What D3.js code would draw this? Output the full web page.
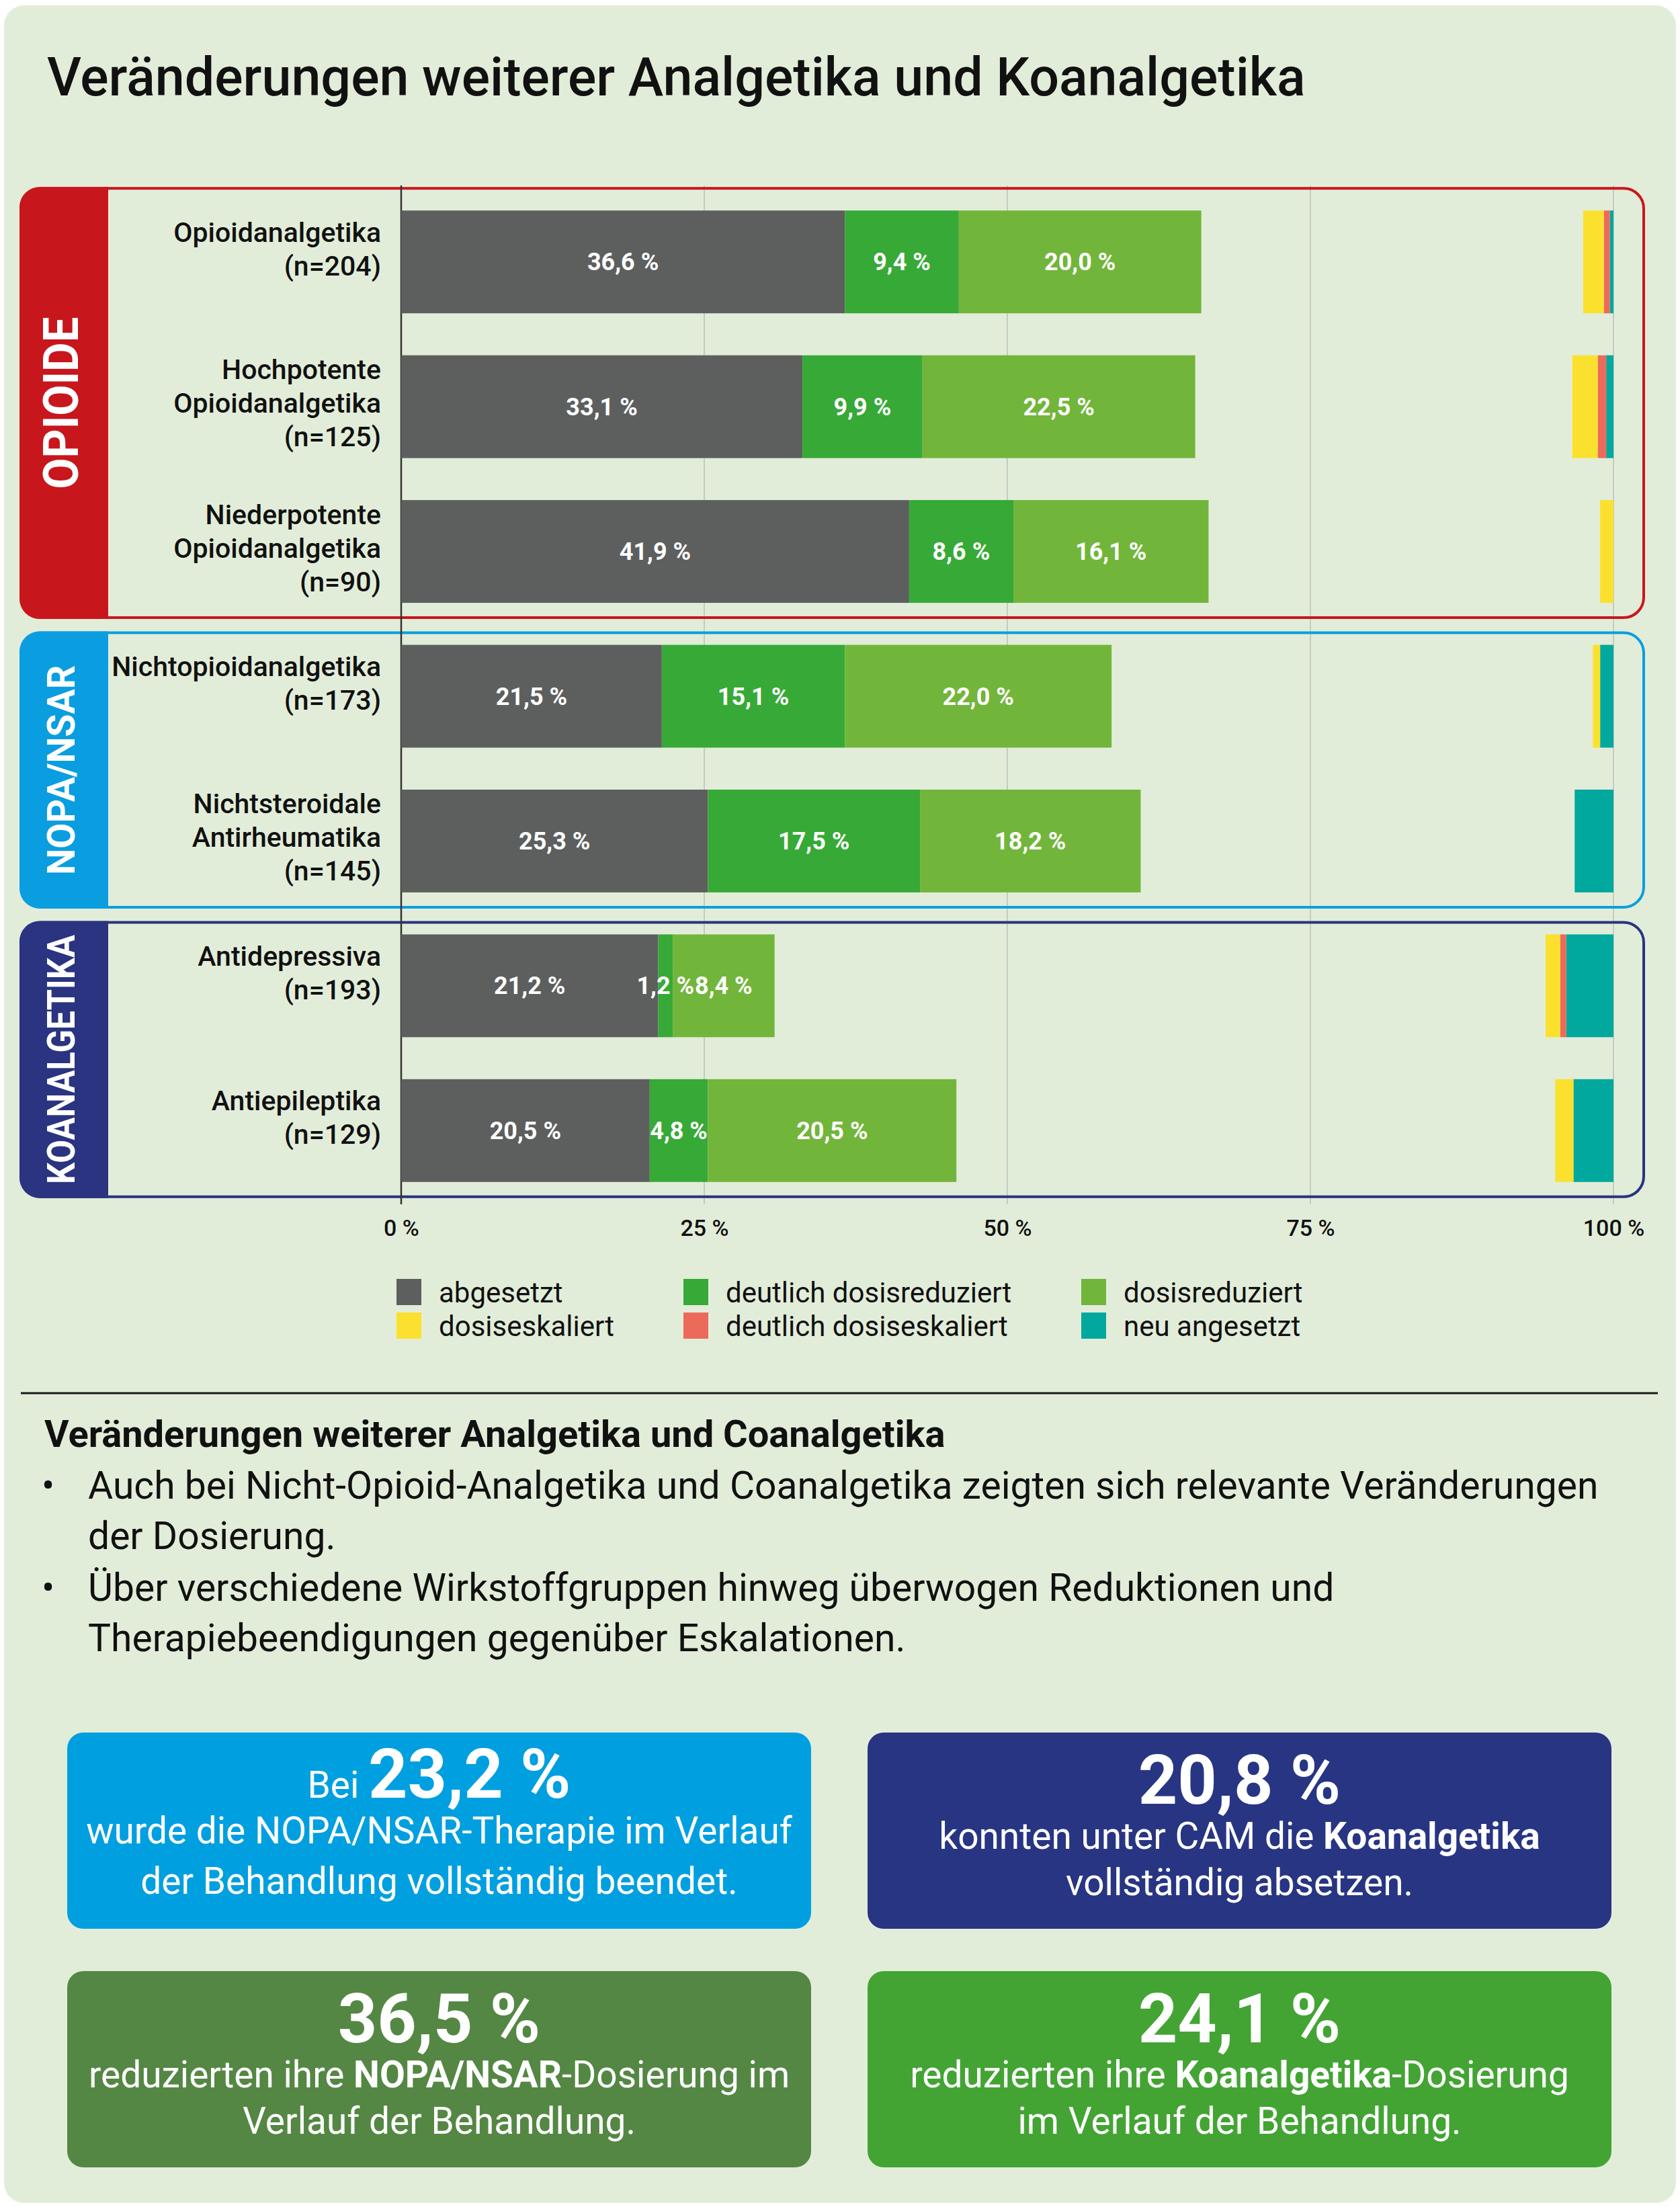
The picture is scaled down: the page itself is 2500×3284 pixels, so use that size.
<!DOCTYPE html>
<html>
<head>
<meta charset="utf-8">
<script src="https://cdn.jsdelivr.net/npm/d3@7"></script>
<style>
  body { margin: 0; background: #fff; }
  svg { display: block; font-family: Roboto, "Noto Sans", sans-serif; }
</style>
</head>
<body>
<div id="chart"></div>
<script>
// --- data ---
const categories = ["opioid", "hochpotent", "niederpotent", "nopa", "nsar", "antidep", "antiepi"];
const categoryLines = [
    ["Opioidanalgetika", "(n=204)"],
    ["Hochpotente", "Opioidanalgetika", "(n=125)"],
    ["Niederpotente", "Opioidanalgetika", "(n=90)"],
    ["Nichtopioidanalgetika", "(n=173)"],
    ["Nichtsteroidale", "Antirheumatika", "(n=145)"],
    ["Antidepressiva", "(n=193)"],
    ["Antiepileptika", "(n=129)"]
];
const groupNames = ["OPIOIDE", "NOPA/NSAR", "KOANALGETIKA"];
const groupMembers = [["opioid", "niederpotent"], ["nopa", "nsar"], ["antidep", "antiepi"]];

// left stack (from 0 %)
const abgesetzt          = [36.6, 33.1, 41.9, 21.5, 25.3, 21.2, 20.5];
const deutlichReduziert  = [9.4, 9.9, 8.6, 15.1, 17.5, 1.2, 4.8];
const reduziert          = [20.0, 22.5, 16.1, 22.0, 18.2, 8.4, 20.5];
// right stack (from 100 % leftwards)
const neuAngesetzt       = [0.3, 0.6, 0, 1.1, 3.2, 3.9, 3.3];
const deutlichEskaliert  = [0.5, 0.7, 0, 0, 0, 0.5, 0];
const eskaliert          = [1.7, 2.1, 1.1, 0.6, 0, 1.2, 1.5];

const tickValues = [0, 25, 50, 75, 100];
const tickLabels = ["0 %", "25 %", "50 %", "75 %", "100 %"];

const legendLabels = ["abgesetzt", "deutlich dosisreduziert", "dosisreduziert",
                      "dosiseskaliert", "deutlich dosiseskaliert", "neu angesetzt"];

const sectionHeading = "Veränderungen weiterer Analgetika und Coanalgetika";
const bullets = [
    ["Auch bei Nicht-Opioid-Analgetika und Coanalgetika zeigten sich relevante Veränderungen", "der Dosierung."],
    ["Über verschiedene Wirkstoffgruppen hinweg überwogen Reduktionen und", "Therapiebeendigungen gegenüber Eskalationen."]
];

// fact boxes: each line is a list of [text, style]
const factBoxes = [
    [[["Bei ", false], ["23,2 %", "big"]],
     [["wurde die NOPA/NSAR-Therapie im Verlauf", false]],
     [["der Behandlung vollständig beendet.", false]]],
    [[["20,8 %", "big"]],
     [["konnten unter CAM die ", false], ["Koanalgetika", true]],
     [["vollständig absetzen.", false]]],
    [[["36,5 %", "big"]],
     [["reduzierten ihre ", false], ["NOPA/NSAR", true], ["-Dosierung im", false]],
     [["Verlauf der Behandlung.", false]]],
    [[["24,1 %", "big"]],
     [["reduzierten ihre ", false], ["Koanalgetika", true], ["-Dosierung", false]],
     [["im Verlauf der Behandlung.", false]]]
];

// --- styles ---
const segColors = {
    abgesetzt: "#5d5f5e", deutlichReduziert: "#37a936", reduziert: "#72b53b",
    eskaliert: "#fbe12d", deutlichEskaliert: "#ec6a5a", neuAngesetzt: "#00a89d"
};
const legendColors = ["#5d5f5e", "#37a936", "#72b53b", "#fbe12d", "#ec6a5a", "#00a89d"];
const groupColors = ["#c8161d", "#0a9ee0", "#2a3480"];
const boxColors = ["#009fe0", "#283583", "#548743", "#43a434"];

const width = 2500, height = 3284;

const svg = d3.select("#chart").append("svg")
    .attr("width", width)
    .attr("height", height);

// background panel
svg.append("rect")
    .attr("x", 6).attr("y", 8)
    .attr("width", 2488).attr("height", 3270)
    .attr("rx", 30)
    .attr("fill", "#e2edd9");

// title
svg.append("text")
    .attr("x", 70).attr("y", 142)
    .attr("font-size", 79).attr("font-weight", 500)
    .attr("fill", "#111")
    .text("Veränderungen weiterer Analgetika und Koanalgetika");

// --- scales ---
const x = d3.scaleLinear().domain([0, 100]).range([597, 2401]);
const y = d3.scaleBand().domain(categories)
    .range([282, 1790])
    .paddingInner(0.29).paddingOuter(0.145);
const bw = y.bandwidth();

// grid lines
svg.append("g").selectAll("line")
    .data(tickValues.slice(1))
    .enter().append("line")
    .attr("x1", d => x(d)).attr("x2", d => x(d))
    .attr("y1", 276).attr("y2", 1792)
    .attr("stroke", "#c6cac2").attr("stroke-width", 2);

// --- group boxes ---
const boxLeft = 31, boxRight = 2446, bandW = 130, r = 30;
groupNames.forEach((name, i) => {
    const [first, last] = groupMembers[i];
    const top = y(first) - (i === 0 ? 33 : 18);
    const bottom = y(last) + bw + 22;
    const g = svg.append("g");
    g.append("rect")
        .attr("x", boxLeft).attr("y", top)
        .attr("width", boxRight - boxLeft).attr("height", bottom - top)
        .attr("rx", r)
        .attr("fill", "none")
        .attr("stroke", groupColors[i]).attr("stroke-width", 4);
    const x0 = boxLeft - 2, x1 = boxLeft + bandW;
    const t = top - 2, b = bottom + 2;
    g.append("path")
        .attr("d", `M${x0 + r},${t} H${x1} V${b} H${x0 + r} A${r},${r} 0 0 1 ${x0},${b - r} V${t + r} A${r},${r} 0 0 1 ${x0 + r},${t} Z`)
        .attr("fill", groupColors[i]);
    const cy = (top + bottom) / 2;
    const fs = i === 0 ? 73 : 58;
    const len = [256, 312, 371][i];
    g.append("text")
        .attr("transform", `translate(90, ${cy}) rotate(-90)`)
        .attr("text-anchor", "middle")
        .attr("dy", "0.36em")
        .attr("font-size", fs).attr("font-weight", 700)
        .attr("fill", "#fff")
        .attr("textLength", len).attr("lengthAdjust", "spacingAndGlyphs")
        .text(name);
});

// 0 % axis line
svg.append("line")
    .attr("x1", x(0)).attr("x2", x(0))
    .attr("y1", 276).attr("y2", 1792)
    .attr("stroke", "#333").attr("stroke-width", 2.5);

// --- bars ---
const leftKeys = [["abgesetzt", abgesetzt], ["deutlichReduziert", deutlichReduziert], ["reduziert", reduziert]];
const rightKeys = [["neuAngesetzt", neuAngesetzt], ["deutlichEskaliert", deutlichEskaliert], ["eskaliert", eskaliert]];

const segments = [];
categories.forEach((c, i) => {
    let acc = 0;
    leftKeys.forEach(([k, arr]) => {
        segments.push({ cat: c, key: k, x0: acc, x1: acc + arr[i], value: arr[i], label: true });
        acc += arr[i];
    });
    let end = 100;
    rightKeys.forEach(([k, arr]) => {
        if (arr[i] > 0) segments.push({ cat: c, key: k, x0: end - arr[i], x1: end, value: arr[i], label: false });
        end -= arr[i];
    });
});

svg.append("g").selectAll("rect")
    .data(segments)
    .enter().append("rect")
    .attr("x", d => x(d.x0))
    .attr("y", d => y(d.cat))
    .attr("width", d => x(d.x1) - x(d.x0))
    .attr("height", bw)
    .attr("fill", d => segColors[d.key]);

const fmt = v => d3.format(".1f")(v).replace(".", ",") + " %";
svg.append("g").selectAll("text")
    .data(segments.filter(d => d.label))
    .enter().append("text")
    .attr("x", d => (x(d.x0) + x(d.x1)) / 2)
    .attr("y", d => y(d.cat) + bw / 2)
    .attr("dy", "0.35em")
    .attr("text-anchor", "middle")
    .attr("font-size", 36).attr("font-weight", 700)
    .attr("fill", "#fff")
    .text(d => fmt(d.value));

// --- category labels ---
categories.forEach((c, i) => {
    const lines = categoryLines[i];
    const cy = y(c) + bw / 2;
    const off = lines.length === 3 ? 9 : -5;
    const t = svg.append("text")
        .attr("text-anchor", "end")
        .attr("font-size", 41).attr("font-weight", 500)
        .attr("fill", "#111");
    lines.forEach((ln, j) => {
        t.append("tspan")
            .attr("x", 567)
            .attr("y", cy + off + (j - (lines.length - 1) / 2) * 50)
            .text(ln);
    });
});

// --- x axis labels ---
const axis = d3.axisBottom(x)
    .tickValues(tickValues)
    .tickSize(0)
    .tickFormat((d, i) => tickLabels[i]);
const axisG = svg.append("g")
    .attr("transform", "translate(0, 1812)")
    .call(axis);
axisG.select(".domain").remove();
axisG.selectAll("text")
    .attr("font-family", "Roboto, sans-serif")
    .attr("font-size", 34).attr("font-weight", 500)
    .attr("fill", "#111");

// --- legend ---
const legendX = [590, 1017, 1609];
const legendY = [1903, 1953];
const legend = svg.append("g");
legendLabels.forEach((lab, i) => {
    const col = i % 3, row = Math.floor(i / 3);
    legend.append("rect")
        .attr("x", legendX[col]).attr("y", legendY[row])
        .attr("width", 37).attr("height", 39)
        .attr("fill", legendColors[i]);
    legend.append("text")
        .attr("x", legendX[col] + 63).attr("y", legendY[row] + 20)
        .attr("dy", "0.35em")
        .attr("font-size", 42)
        .attr("fill", "#111")
        .text(lab);
});

// --- text section ---
svg.append("line")
    .attr("x1", 31).attr("x2", 2467)
    .attr("y1", 2073).attr("y2", 2073)
    .attr("stroke", "#1a1a1a").attr("stroke-width", 3);

svg.append("text")
    .attr("x", 66).attr("y", 2153)
    .attr("font-size", 56).attr("font-weight", 700)
    .attr("fill", "#111")
    .text(sectionHeading);

const bulletBase = [2230, 2382];
bullets.forEach((lines, i) => {
    svg.append("text")
        .attr("x", 62).attr("y", bulletBase[i])
        .attr("font-size", 57).attr("fill", "#111")
        .text("•");
    lines.forEach((ln, j) => {
        svg.append("text")
            .attr("x", 131).attr("y", bulletBase[i] + j * 75)
            .attr("font-size", 57).attr("fill", "#111")
            .text(ln);
    });
});

// --- fact boxes ---
const boxX = [100, 1291];
const boxY = [2578, 2933];
const boxW = 1107, boxH = 292;
factBoxes.forEach((lines, i) => {
    const bx = boxX[i % 2], by = boxY[Math.floor(i / 2)];
    svg.append("rect")
        .attr("x", bx).attr("y", by)
        .attr("width", boxW).attr("height", boxH)
        .attr("rx", 24)
        .attr("fill", boxColors[i]);
    const base = i === 0 ? [97, 165, 240] : [106, 173, 242];
    lines.forEach((parts, j) => {
        const t = svg.append("text")
            .attr("x", bx + boxW / 2).attr("y", by + base[j])
            .attr("text-anchor", "middle")
            .attr("fill", "#fff");
        parts.forEach(([txt, style]) => {
            t.append("tspan")
                .attr("font-size", style === "big" ? 102 : 55)
                .attr("font-weight", style ? 700 : 400)
                .text(txt);
        });
    });
});
</script>
</body>
</html>
